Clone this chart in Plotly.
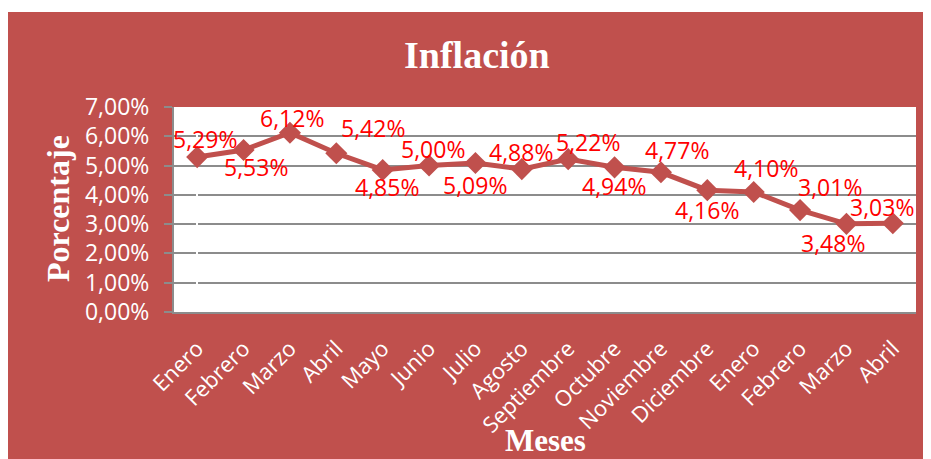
import plotly.graph_objects as go

# datos
meses = ["Enero", "Febrero", "Marzo", "Abril", "Mayo", "Junio", "Julio", "Agosto",
         "Septiembre", "Octubre", "Noviembre", "Diciembre", "Enero", "Febrero", "Marzo", "Abril"]
inflacion = [5.29, 5.53, 6.12, 5.42, 4.85, 5.00, 5.09, 4.88,
             5.22, 4.94, 4.77, 4.16, 4.10, 3.48, 3.01, 3.03]

# desplazamiento de cada etiqueta (px), como en el original
label_dx = [8, 12, 2, 37, 4, 4, 0, -1, 20, -1, 16, 0, 12, 33, -16, -11]
label_dy = [18, -17, 15, 25, -17, 17, -22, 17, 17, -19, 22, -20, 24, -33, 37, 16]

ROJO = "#C0504D"
GRIS = "#8c8c8c"
# la pagina deja 8 px de margen, la figura empieza en (8, 8)
W, H = 923, 451
L, R, T, B = 166, 15, 99, 147
pw, ph = W - L - R, H - T - B


def px_x(p):
    return (p - L) / pw


def px_y(p):
    return (H - B - p) / ph


cats = list(range(len(meses)))

fig = go.Figure()
fig.add_trace(go.Scatter(
    x=cats, y=inflacion, mode="lines+markers",
    line=dict(color=ROJO, width=5),
    marker=dict(symbol="diamond", size=17, color=ROJO),
    hoverinfo="skip", showlegend=False,
))

for i, v in enumerate(inflacion):
    fig.add_annotation(
        x=i, y=v, text=f"{v:.2f}%".replace(".", ","), showarrow=False,
        xshift=label_dx[i], yshift=label_dy[i],
        font=dict(family="Open Sans", size=23, color="#FF0000"),
    )

# fondo rojo y area blanca
fig.add_shape(type="rect", xref="paper", yref="paper", layer="below",
              x0=px_x(0), x1=px_x(W + 5), y0=px_y(H + 5), y1=px_y(4),
              fillcolor=ROJO, line=dict(width=0))
fig.add_shape(type="rect", xref="paper", yref="paper", layer="below",
              x0=0, x1=1, y0=0, y1=1, fillcolor="white", line=dict(width=0))

fig.add_annotation(x=px_x(469), y=px_y(47), xref="paper", yref="paper",
                   xanchor="center", yanchor="middle",
                   text="<b>Inflación</b>", showarrow=False,
                   font=dict(family="Liberation Serif", size=38, color="white"))
fig.add_annotation(x=px_x(537), y=px_y(432), xref="paper", yref="paper",
                   xanchor="center", yanchor="middle", borderpad=0,
                   text="<b>Meses</b>", showarrow=False,
                   font=dict(family="Liberation Serif", size=31, color="white"))
fig.add_annotation(x=px_x(50), y=px_y(201), xref="paper", yref="paper",
                   xanchor="center", yanchor="middle", textangle=-90,
                   text="<b>Porcentaje</b>", showarrow=False,
                   font=dict(family="Liberation Serif", size=32, color="white"))

fig.update_layout(
    width=W, height=H,
    margin=dict(l=L, r=R, t=T, b=B),
    paper_bgcolor="white", plot_bgcolor="white",
    separators=",.",
    font=dict(family="Open Sans", size=22, color="white"),
)

fig.update_xaxes(
    range=[-0.5, len(meses) - 0.5],
    tickvals=cats, ticktext=meses, tickangle=-45,
    tickfont=dict(family="Open Sans", size=22, color="white"),
    showgrid=False, showline=True, linecolor=GRIS, linewidth=2,
    ticks="", ticklabelstandoff=13,
)
fig.update_yaxes(
    range=[0, 7], dtick=1, tickformat=".2f", ticksuffix="%",
    tickfont=dict(family="Open Sans", size=23, color="white"),
    showgrid=True, gridcolor=GRIS, gridwidth=2,
    showline=True, linecolor=GRIS, linewidth=2,
    ticks="outside", ticklen=8, tickcolor=GRIS, tickwidth=2,
    ticklabelstandoff=10, zeroline=False,
)

fig.write_html("out.html")
